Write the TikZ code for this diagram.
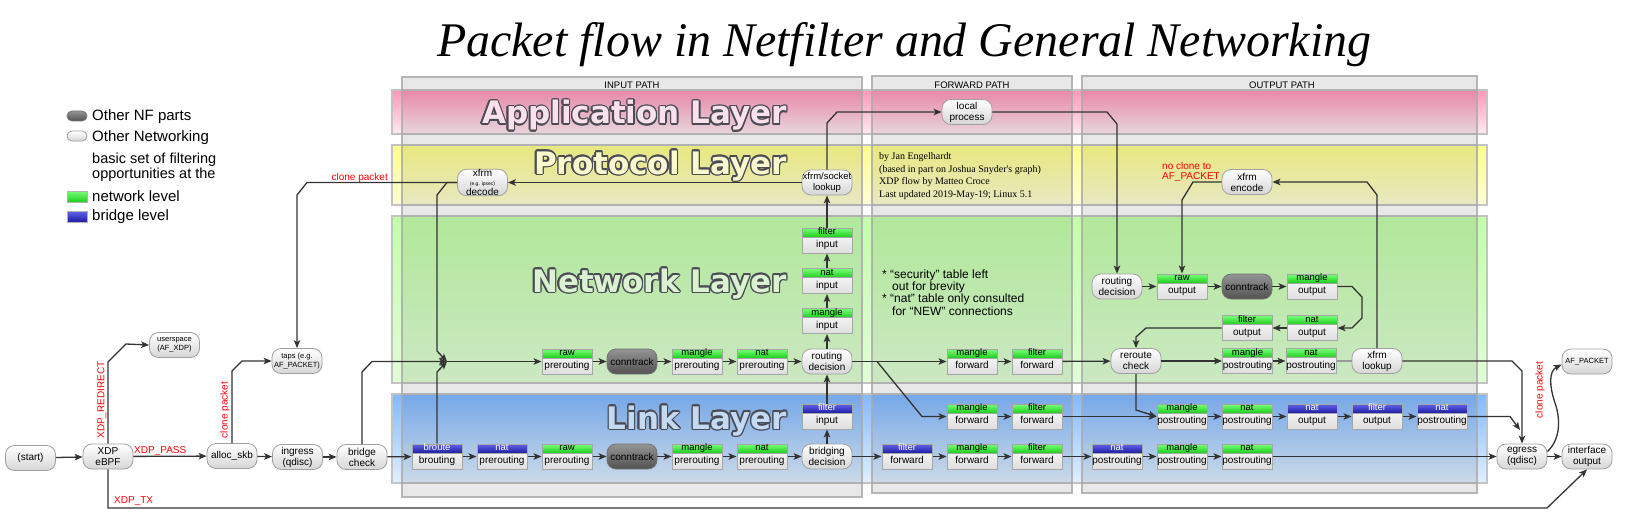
\documentclass[tikz,border=0pt]{standalone}
\usepackage{fontspec}
\setmainfont{Liberation Sans}
\newfontfamily\seriffont{Liberation Serif}
\newfontfamily\layerfont{DejaVu Sans}
\usetikzlibrary{arrows.meta,calc}
\definecolor{edgec}{RGB}{51,51,51}
\definecolor{nborder}{RGB}{160,160,160}
\definecolor{bandline}{RGB}{195,195,195}
\definecolor{appT}{RGB}{255,150,185}
\definecolor{appB}{RGB}{255,235,242}
\definecolor{proT}{RGB}{255,255,140}
\definecolor{proB}{RGB}{255,255,215}
\definecolor{netT}{RGB}{195,255,170}
\definecolor{netB}{RGB}{225,255,215}
\definecolor{linkT}{RGB}{130,185,255}
\definecolor{linkB}{RGB}{225,240,255}
\definecolor{ghT}{RGB}{120,255,120}
\definecolor{ghB}{RGB}{30,205,30}
\definecolor{bhT}{RGB}{100,100,235}
\definecolor{bhB}{RGB}{30,30,165}
\definecolor{ltline}{RGB}{75,75,85}
\definecolor{appF}{RGB}{250,225,235}
\definecolor{proF}{RGB}{250,248,205}
\definecolor{netF}{RGB}{218,242,208}
\definecolor{linkF}{RGB}{195,218,242}
\tikzset{
 rnode/.style={draw=nborder, line width=0.8pt, rounded corners=9pt, top color=white, bottom color=black!16, minimum width=50pt, minimum height=25pt, inner sep=0pt, align=center, font=\fontsize{10}{11}\selectfont},
 dnode/.style={rnode, top color=black!42, bottom color=black!68, draw=black!55},
 smallnode/.style={rnode, font=\fontsize{7.5}{8.5}\selectfont},
 tblbox/.style={draw=black!35, line width=1pt, top color=white, bottom color=black!13, minimum width=50pt, minimum height=25pt, inner sep=0pt},
 ghead/.style={anchor=north, draw=black!35, line width=1pt, minimum width=50pt, minimum height=9pt, inner sep=0pt, top color=ghT, bottom color=ghB, text=black, text height=6.6pt, text depth=1.8pt, font=\fontsize{9.5}{9.5}\selectfont},
 bhead/.style={ghead, top color=bhT, bottom color=bhB, text=white},
 tbltext/.style={anchor=south, minimum width=50pt, minimum height=16pt, inner sep=0pt, text height=7.4pt, text depth=2.3pt, font=\fontsize{10}{10}\selectfont},
 ar/.style={draw=edgec, line width=1.3pt, -{Stealth[length=8pt,width=6.5pt,inset=2pt]}},
 grayln/.style={draw=black!40, line width=1.1pt},
 redlbl/.style={text=red, inner sep=0pt, font=\fontsize{10}{10}\selectfont},
 ltitle/.style={anchor=base east, inner sep=0pt, font=\layerfont\bfseries\fontsize{31}{31}\selectfont},
 lgtext/.style={anchor=base west, inner sep=0pt, font=\fontsize{15}{15}\selectfont},
 collabel/.style={inner sep=0pt, font=\fontsize{9.5}{9.5}\selectfont},
 credit/.style={anchor=base west, inner sep=0pt, font=\seriffont\fontsize{10}{10}\selectfont},
 note/.style={anchor=base west, inner sep=0pt, font=\fontsize{12}{12}\selectfont},
}
\newcommand\tb[6]{%
  \node[tblbox] (#1) at (#2,#3) {};
  \node[#6] (#1h) at (#1.north) {#4};
  \node[tbltext] (#1t) at (#1.south) {#5};
}
\newcommand\layertitle[5]{%
  \foreach \ang in {0,30,...,330}
    \node[ltitle, text=ltline] (#1-\ang) at ($(#2,#3)+(\ang:1.4)$) {#5};
  \node[ltitle, text=#4] (#1) at (#2,#3) {#5};
}
\begin{document}
\begin{tikzpicture}[x=1pt,y=-1pt]
\fill[white] (0,0) rectangle (1640,532);
\useasboundingbox (0,0) rectangle (1640,532);

% title
\node[anchor=base west, inner sep=0pt] (title) at (437,57) {\resizebox{934pt}{34pt}{\seriffont\itshape Packet flow in Netfilter and General Networking}};

% bands
\shadedraw[top color=appT, bottom color=appB, draw=bandline, line width=1.2pt] (392,90) rectangle (1487,134);
\shadedraw[top color=proT, bottom color=proB, draw=bandline, line width=1.2pt] (392,145) rectangle (1487,205);
\shadedraw[top color=netT, bottom color=netB, draw=bandline, line width=1.2pt] (392,216) rectangle (1487,383);
\shadedraw[top color=linkT, bottom color=linkB, draw=bandline, line width=1.2pt] (392,394) rectangle (1487,483);

% columns
\foreach \xa/\ya/\xb/\yb in {402/77/862/497, 872/76/1072/493, 1082/76/1477/493}{
  \fill[black, fill opacity=0.09] (\xa,\ya) rectangle (\xb,\yb);
  \draw[black!33, line width=1.1pt, draw opacity=0.85] (\xa,\ya) rectangle (\xb,\yb);
}
\node[collabel] (cin) at (632,85) {INPUT PATH};
\node[collabel] (cfw) at (972,85) {FORWARD PATH};
\node[collabel] (cout) at (1282,85) {OUTPUT PATH};

% layer titles
\layertitle{tapp}{787}{124}{appF}{Application Layer}
\layertitle{tpro}{787}{174}{proF}{Protocol Layer}
\layertitle{tnet}{787}{292}{netF}{Network Layer}
\layertitle{tlink}{787}{429}{linkF}{Link Layer}

% legend
\node[dnode, minimum width=20pt, minimum height=10pt, rounded corners=5pt] (lgnf) at (77,116) {};
\node[lgtext] (lgnft) at (92,121) {Other NF parts};
\node[rnode, minimum width=20pt, minimum height=10pt, rounded corners=5pt] (lgon) at (77,136) {};
\node[lgtext] (lgont) at (92,141) {Other Networking};
\node[lgtext, font=\fontsize{14.5}{14.5}\selectfont] (lgb1) at (92,163.5) {basic set of filtering};
\node[lgtext, font=\fontsize{14.5}{14.5}\selectfont] (lgb2) at (92,178) {opportunities at the};
\node[draw=black!30, top color=ghT, bottom color=ghB, minimum width=20pt, minimum height=11pt, inner sep=0pt] (lgg) at (77,196.5) {};
\node[lgtext] (lggt) at (92,201) {network level};
\node[draw=black!30, top color=bhT, bottom color=bhB, minimum width=20pt, minimum height=11pt, inner sep=0pt] (lgbl) at (77,216.5) {};
\node[lgtext] (lgblt) at (92,220.5) {bridge level};

% credits and notes
\node[credit] (cr1) at (879,159.5) {by Jan Engelhardt};
\node[credit] (cr2) at (879,172) {(based in part on Joshua Snyder's graph)};
\node[credit] (cr3) at (879,184.5) {XDP flow by Matteo Croce};
\node[credit] (cr4) at (879,197) {Last updated 2019-May-19; Linux 5.1};
\node[note] (n1) at (882,278) {* “security” table left};
\node[note] (n2) at (892,290.5) {out for brevity};
\node[note] (n3) at (882,302.5) {* “nat” table only consulted};
\node[note] (n4) at (892,315) {for “NEW” connections};

% rounded nodes
\node[rnode] (start) at (30.5,458) {(start)};
\node[rnode] (xdp) at (108,456.5) {XDP\\eBPF};
\node[smallnode] (usr) at (174.5,345) {userspace\\(AF\_XDP)};
\node[rnode] (alloc) at (232,456) {alloc\_skb};
\node[rnode] (ingress) at (297.5,457) {ingress\\(qdisc)};
\node[rnode] (bcheck) at (362,457) {bridge\\check};
\node[smallnode] (taps) at (297,361) {taps (e.g.\\AF\_PACKET)};
\node[rnode] (decode) at (482.5,182.5) {xfrm\\[-2pt]{\fontsize{5}{5}\selectfont (e.g. ipsec)}\\[-1pt]decode};
\node[rnode, font=\fontsize{9.5}{11}\selectfont] (lookup) at (827,182.5) {xfrm/socket\\lookup};
\node[rnode] (local) at (967,112) {local\\process};
\node[rnode] (rdin) at (827,361.5) {routing\\decision};
\node[rnode] (bdec) at (827,456.5) {bridging\\decision};
\node[rnode] (rdout) at (1117,286.5) {routing\\decision};
\node[rnode] (encode) at (1247,182) {xfrm\\encode};
\node[rnode] (reroute) at (1136,361) {reroute\\check};
\node[rnode] (xlookup) at (1377,361) {xfrm\\lookup};
\node[rnode] (egress) at (1522,456.5) {egress\\(qdisc)};
\node[rnode] (ifout) at (1587,456.5) {interface\\output};
\node[smallnode] (afp) at (1587,361.5) {AF\_PACKET};
\node[dnode] (ct1) at (632,361.5) {conntrack};
\node[dnode] (ct2) at (632,456.5) {conntrack};
\node[dnode] (ct3) at (1247,286.5) {conntrack};

% table boxes
\tb{rawpre}{567}{361.5}{raw}{prerouting}{ghead}
\tb{manglepre}{697}{361.5}{mangle}{prerouting}{ghead}
\tb{natpre}{762}{361.5}{nat}{prerouting}{ghead}
\tb{broute}{437}{456.5}{broute}{brouting}{bhead}
\tb{bnatpre}{502}{456.5}{nat}{prerouting}{bhead}
\tb{lrawpre}{567}{456.5}{raw}{prerouting}{ghead}
\tb{lmanglepre}{697}{456.5}{mangle}{prerouting}{ghead}
\tb{lnatpre}{762}{456.5}{nat}{prerouting}{ghead}
\tb{bfilterin}{827}{416.5}{filter}{input}{bhead}
\tb{mangin}{827}{321}{mangle}{input}{ghead}
\tb{natin}{827}{281}{nat}{input}{ghead}
\tb{filterin}{827}{240.5}{filter}{input}{ghead}
\tb{fmangle}{972}{361.5}{mangle}{forward}{ghead}
\tb{ffilter}{1037}{361.5}{filter}{forward}{ghead}
\tb{lfmangle}{972}{416.5}{mangle}{forward}{ghead}
\tb{lffilter}{1037}{416.5}{filter}{forward}{ghead}
\tb{bffilter}{907}{456.5}{filter}{forward}{bhead}
\tb{bfmangle}{972}{456.5}{mangle}{forward}{ghead}
\tb{bffiltertwo}{1037}{456.5}{filter}{forward}{ghead}
\tb{rawout}{1182}{286.5}{raw}{output}{ghead}
\tb{mangout}{1312}{286.5}{mangle}{output}{ghead}
\tb{natout}{1312}{328}{nat}{output}{ghead}
\tb{filtout}{1247}{328}{filter}{output}{ghead}
\tb{mangpost}{1247.5}{361}{mangle}{postrouting}{ghead}
\tb{natpost}{1311}{361}{nat}{postrouting}{ghead}
\tb{lmangpost}{1182}{416.5}{mangle}{postrouting}{ghead}
\tb{lnatpost}{1247}{416.5}{nat}{postrouting}{ghead}
\tb{bnatout}{1312}{416.5}{nat}{output}{bhead}
\tb{bfiltout}{1377}{416.5}{filter}{output}{bhead}
\tb{bnatpost}{1442}{416.5}{nat}{postrouting}{bhead}
\tb{bnatpostc}{1117}{456.5}{nat}{postrouting}{bhead}
\tb{lmangpostc}{1182}{456.5}{mangle}{postrouting}{ghead}
\tb{lnatpostc}{1247}{456.5}{nat}{postrouting}{ghead}

\coordinate (merge) at (447,361.5);
\coordinate (fork) at (877,361.5);
\coordinate (egin) at (1520,430);

% edges
\draw[ar] (start) -- (xdp);
\draw[ar] (xdp) -- (alloc);
\draw[ar] (xdp.north) -- (108,362) -- (126,344) -- (usr.west);
\draw[ar] (xdp.south) -- (108,508) -- (1547,508) -- (ifout.south);
\draw[ar] (alloc) -- (ingress);
\draw[ar] (ingress) -- (bcheck);
\draw[ar] (alloc.north) -- (232,371) -- (242,361) -- (taps.west);
\draw[ar] (bcheck) -- (broute);
\draw[ar] (bcheck.north) -- (362,372) -- (372,361.5) -- (merge);
\draw[ar] (broute.north) -- (437,372) -- (merge);
\draw[ar] (decode.west) -- (447,182.5) -- (437,195) -- (437,351) -- (merge);
\draw[ar] (decode.west) -- (307,182.5) -- (297,195) -- (taps.north);
\draw[ar] (merge) -- (rawpre);
\draw[ar] (rawpre) -- (ct1);
\draw[ar] (ct1) -- (manglepre);
\draw[ar] (manglepre) -- (natpre);
\draw[ar] (natpre) -- (rdin);
\draw[ar] (broute) -- (bnatpre);
\draw[ar] (bnatpre) -- (lrawpre);
\draw[ar] (lrawpre) -- (ct2);
\draw[ar] (ct2) -- (lmanglepre);
\draw[ar] (lmanglepre) -- (lnatpre);
\draw[ar] (lnatpre) -- (bdec);
\draw[ar] (bdec) -- (bfilterin);
\draw[ar] (bfilterin) -- (rdin);
\draw[ar] (rdin) -- (mangin);
\draw[ar] (mangin) -- (natin);
\draw[ar] (natin) -- (filterin);
\draw[ar] (filterin) -- (lookup);
\draw[ar] (lookup) -- (decode);
\draw[ar] (lookup.north) -- (827,123) -- (837,112) -- (local.west);
\draw[ar] (local.east) -- (1107,112) -- (1117,124) -- (rdout.north);
\draw[ar] (rdin) -- (fmangle);
\draw[ar] (fork) -- (922,416.5) -- (lfmangle.west);
\draw[ar] (fmangle) -- (ffilter);
\draw[ar] (ffilter) -- (reroute);
\draw[ar] (lfmangle) -- (lffilter);
\draw[ar] (lffilter) -- (lmangpost);
\draw[ar] (bdec) -- (bffilter);
\draw[ar] (bffilter) -- (bfmangle);
\draw[ar] (bfmangle) -- (bffiltertwo);
\draw[ar] (bffiltertwo) -- (bnatpostc);
\draw[ar] (bnatpostc) -- (lmangpostc);
\draw[ar] (lmangpostc) -- (lnatpostc);
\draw[ar] (lnatpostc) -- (egress);
\draw[ar] (rdout) -- (rawout);
\draw[ar] (rawout) -- (ct3);
\draw[ar] (ct3) -- (mangout);
\draw[ar] (mangout.east) -- (1352,286.5) -- (1362,297) -- (1362,318) -- (1352,328) -- (natout.east);
\draw[ar] (natout) -- (filtout);
\draw[ar] (filtout.west) -- (1146,328) -- (1136,337) -- (reroute.north);
\draw[ar] (encode.west) -- (1193,182) -- (1182,200) -- (rawout.north);
\draw[ar] (reroute) -- (mangpost);
\draw[ar] (mangpost) -- (natpost);
\draw[grayln] (natpost) -- (xlookup);
\draw[ar] (reroute.south) -- (1136,410) -- (lmangpost.west);
\draw[ar] (xlookup.north) -- (1377,195) -- (1367,182) -- (encode.east);
\draw[ar] (xlookup.east) -- (1512,361) -- (1522,371) -- (egress.north);
\draw[ar] (lmangpost) -- (lnatpost);
\draw[ar] (lnatpost) -- (bnatout);
\draw[ar] (bnatout) -- (bfiltout);
\draw[ar] (bfiltout) -- (bnatpost);
\draw[ar] (bnatpost.east) -- (1510,416.5) -- (egin);
\draw[ar] (egress) -- (ifout);
\draw[ar] ([yshift=5pt]egress.east) .. controls (1560,440) and (1561,420) .. (1555,403) .. controls (1549,385) and (1549,371) .. ([yshift=-3pt]afp.west);

% red labels
\node[redlbl, anchor=base west] (lpass) at (134,453) {XDP\_PASS};
\node[redlbl, anchor=base west] (ltx) at (114,503) {XDP\_TX};
\node[redlbl, rotate=90] (lredir) at (102,400) {XDP\_REDIRECT};
\node[redlbl, rotate=90] (lclone1) at (225,410) {clone packet};
\node[redlbl, anchor=base east] (lclone2) at (388,180) {clone packet};
\node[redlbl, rotate=90] (lclone3) at (1540,390) {clone packet};
\node[redlbl, anchor=base west] (lnoc1) at (1162,169) {no clone to};
\node[redlbl, anchor=base west] (lnoc2) at (1162,179.5) {AF\_PACKET};
\end{tikzpicture}
\end{document}
